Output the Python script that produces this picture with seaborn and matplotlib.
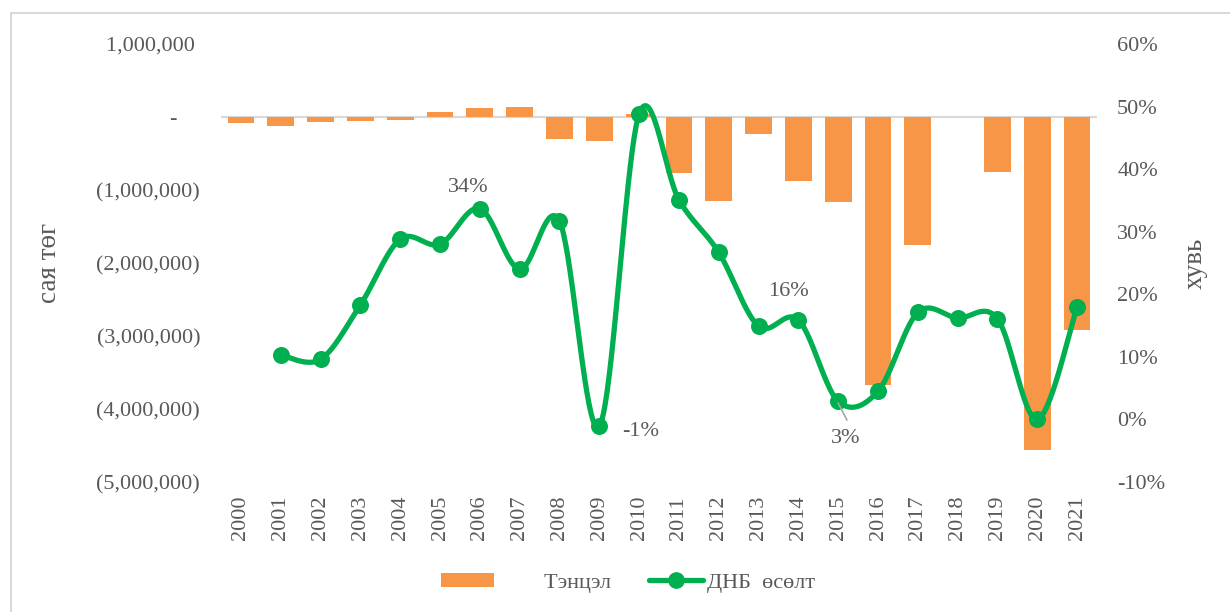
import numpy as np
import pandas as pd
import matplotlib
matplotlib.use("Agg")
import matplotlib.pyplot as plt
import seaborn as sns
from matplotlib.patches import Patch
from matplotlib.lines import Line2D
from matplotlib.ticker import FixedLocator, FuncFormatter

# ---------------- data ----------------
years = [str(y) for y in range(2000, 2022)]
balance = [-88000, -123000, -74000, -60000, -40000, 73000, 123000, 132000,
           -307000, -329000, 36000, -773000, -1151000, -229000, -873000,
           -1160000, -3671000, -1749000, 0, -759000, -4562000, -2923000]
gdp_growth = [np.nan, 10.3, 9.6, 18.3, 28.8, 28.0, 33.7, 24.0, 31.7, -1.1,
              48.8, 35.1, 26.7, 14.9, 15.9, 2.9, 4.5, 17.1, 16.2, 16.1, 0.0, 18.0]
left_ticks = [1000000, 0, -1000000, -2000000, -3000000, -4000000, -5000000]
right_ticks = [60, 50, 40, 30, 20, 10, 0, -10]
label_bar = "Тэнцэл"
label_line = "ДНБ  өсөлт"
ylabel_left = "сая төг"
ylabel_right = "хувь"
# labelled points: (year, text)
point_labels = [("2006", "34%"), ("2009", "-1%"), ("2014", "16%"), ("2015", "3%")]

ORANGE = "#F79646"
GREEN = "#00B050"
TXT = "#595959"
FS = 16
FS_TITLE = 19.5

sns.set_theme(style="white")
plt.rcParams["font.family"] = ["Liberation Serif", "DejaVu Serif"]
plt.rcParams["text.color"] = TXT
plt.rcParams["axes.labelcolor"] = TXT
plt.rcParams["xtick.color"] = TXT
plt.rcParams["ytick.color"] = TXT

fig = plt.figure(figsize=(12.3, 6.12), dpi=100)
ax = fig.add_subplot(111)
fig.subplots_adjust(left=221/1230, right=1097/1230, top=1-44/612, bottom=1-482/612)

df = pd.DataFrame({"year": years, "balance": balance})
sns.barplot(data=df, x="year", y="balance", color=ORANGE, width=0.67,
            linewidth=0, saturation=1, ax=ax)
ax.axhline(0, color="#D9D9D9", lw=1.6, zorder=0.5)
ax.set_ylim(-5000000, 1000000)
ax.set_xlim(-0.5, len(years) - 0.5)
ax.yaxis.set_major_locator(FixedLocator(left_ticks))

def left_fmt(v, pos):
    if v > 0:
        return f"{v:,.0f} "
    if v == 0:
        return "-    "
    return f"({-v:,.0f})"

ax.yaxis.set_major_formatter(FuncFormatter(left_fmt))
ax.tick_params(axis="y", length=0, pad=15, labelsize=FS)
ax.tick_params(axis="x", length=0, pad=10, labelsize=FS, rotation=90)
ax.set_xlabel("")
ax.set_ylabel(ylabel_left, fontsize=FS_TITLE)
ax.yaxis.set_label_coords(-0.1815, 0.5)
for s in ax.spines.values():
    s.set_visible(False)

# ---------------- line on right axis ----------------
ax2 = ax.twinx()
xs = np.array([i for i, v in enumerate(gdp_growth) if not np.isnan(v)], float)
ys = np.array([v for v in gdp_growth if not np.isnan(v)], float)

def smooth(x, y, n=40):
    P = np.column_stack([x, y])
    out = []
    for i in range(len(P) - 1):
        p0 = P[i - 1] if i > 0 else P[i]
        p1, p2 = P[i], P[i + 1]
        p3 = P[i + 2] if i + 2 < len(P) else P[i + 1]
        c1 = p1 + (p2 - p0) / 6
        c2 = p2 - (p3 - p1) / 6
        t = np.linspace(0, 1, n)[:, None]
        seg = (1 - t) ** 3 * p1 + 3 * (1 - t) ** 2 * t * c1 + 3 * (1 - t) * t ** 2 * c2 + t ** 3 * p2
        out.append(seg if i == 0 else seg[1:])
    return np.vstack(out)

curve = smooth(xs, ys)
cdf = pd.DataFrame({"x": curve[:, 0], "y": curve[:, 1]})
sns.lineplot(data=cdf, x="x", y="y", sort=False, estimator=None, color=GREEN,
             lw=3.8, ax=ax2, solid_capstyle="round")
pdf = pd.DataFrame({"x": xs, "y": ys})
sns.scatterplot(data=pdf, x="x", y="y", color=GREEN, s=150, linewidth=0, ax=ax2, zorder=5)

ax2.set_ylim(-10, 60)
ax2.yaxis.set_major_locator(FixedLocator(right_ticks))
ax2.yaxis.set_major_formatter(FuncFormatter(lambda v, p: f"{v:.0f}%"))
ax2.tick_params(axis="y", length=0, pad=14.5, labelsize=FS)
ax2.set_xlabel("")
ax2.set_ylabel(ylabel_right, fontsize=FS_TITLE, rotation=90, va="center")
ax2.yaxis.set_label_coords(1.112, 0.5)
for s in ax2.spines.values():
    s.set_visible(False)
ax2.set_xlim(-0.5, len(years) - 0.5)

# data labels
offsets = {"34%": (-0.3, 3.3), "-1%": (1.05, -0.8), "16%": (-0.25, 4.5), "3%": (0.2, -5.9)}
for yr, txt in point_labels:
    i = years.index(yr)
    v = gdp_growth[i]
    dx, dy = offsets[txt]
    ax2.text(i + dx, v + dy, txt, ha="center", va="center", fontsize=FS, color=TXT)
    if txt == "3%":
        ax2.plot([i + 0.0, i + 0.22], [v - 0.3, v - 3.0], color="#A6A6A6", lw=1.2, zorder=6)

# legend
handles = [Patch(facecolor=ORANGE, edgecolor="none"),
           Line2D([0], [0], color=GREEN, lw=3.8, marker="o", markersize=11)]
fig.legend(handles, ["        " + label_bar, label_line], loc="center",
           bbox_to_anchor=(628/1230, 1-583/612), ncol=2, frameon=False,
           fontsize=FS, handlelength=2.4, handleheight=0.55, handletextpad=0.2,
           columnspacing=1.75)

# outer frame (left and top edges visible)
fig.add_artist(Line2D([11/1230, 11/1230], [0, 1-13/612], color="#D9D9D9", lw=1.5,
                      transform=fig.transFigure))
fig.add_artist(Line2D([11/1230, 1], [1-13/612, 1-13/612], color="#D9D9D9", lw=1.5,
                      transform=fig.transFigure))

fig.savefig("out.png", dpi=100)
